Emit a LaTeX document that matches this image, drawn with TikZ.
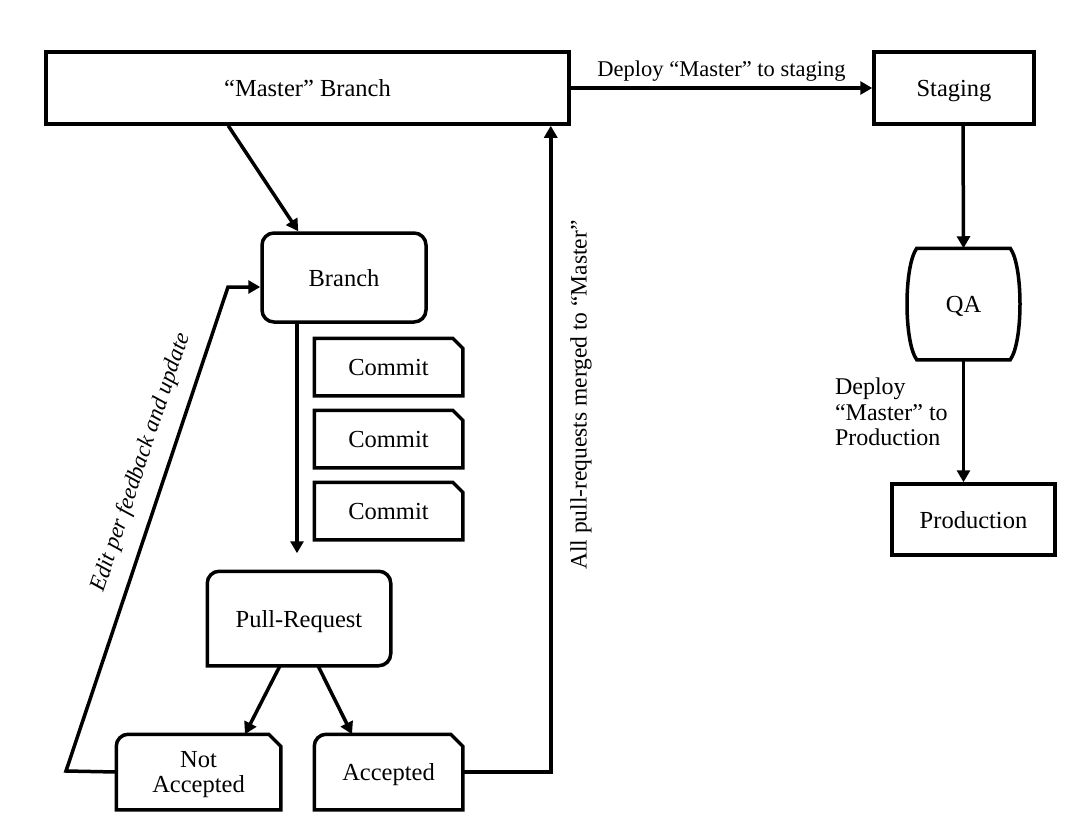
\documentclass[tikz,border=0pt]{standalone}
\usepackage{fontspec}
\setmainfont{Liberation Serif}
\usetikzlibrary{arrows.meta}
\begin{document}
\begin{tikzpicture}[x=1pt, y=-1pt, line width=3.5pt, font=\fontsize{24.5}{25.5}\selectfont,
  box/.style={draw, minimum width=#1, text depth=0pt},
  plain/.style={minimum width=#1, text depth=0pt},
  arr/.style={-{Triangle[length=12pt, width=13pt]}}]
\useasboundingbox (0,0) rectangle (1088,825);
% top row
\node[box=523, minimum height=72] (master) at (307.5,88){``Master'' Branch};
\node[box=160, minimum height=72] (staging) at (954,88){Staging};
\draw[arr](master.east) -- node[above=2, font=\fontsize{22.5}{25}\selectfont]{Deploy ``Master'' to staging} (staging.west);
% branch and commits
\node[box=164, minimum height=89, rounded corners=12] (branch) at (344,277.5){Branch};
\node[plain=145, minimum height=54] (commit1) at (388.5,367){Commit};
\node[plain=145, minimum height=54] (commit2) at (388.5,439){Commit};
\node[plain=145, minimum height=54] (commit3) at (388.5,511){Commit};
\draw[](commit1.south west) -- (commit1.north west) -- ([xshift=-10]commit1.north east) -- ([yshift=-10]commit1.north east) -- (commit1.south east) -- cycle;
\draw[](commit2.south west) -- (commit2.north west) -- ([xshift=-10]commit2.north east) -- ([yshift=-10]commit2.north east) -- (commit2.south east) -- cycle;
\draw[](commit3.south west) -- (commit3.north west) -- ([xshift=-10]commit3.north east) -- ([yshift=-10]commit3.north east) -- (commit3.south east) -- cycle;
% pull request
\node[plain=180, minimum height=91] (pullreq) at (299,618.5){Pull-Request};
\draw[](pullreq.west) [rounded corners=12] -- (pullreq.north west) -- (pullreq.north east) -- (pullreq.south east) -- (pullreq.south) [sharp corners] -- (pullreq.south west) -- cycle;
\draw[arr]([xshift=-47]branch.south) -- ([xshift=-2, yshift=18]pullreq.north);
\draw[arr]([xshift=184]master.south west) -- ([xshift=38]branch.north west);
% review outcome
\node[plain=161, minimum height=72, align=center] (notacc) at (198.5,772){Not\\Accepted};
\node[plain=145, minimum height=72] (acc) at (388.5,772){Accepted};
\draw[](notacc.south west) -- (notacc.west) [rounded corners=12] -- (notacc.north west) -- (notacc.north) [sharp corners] -- ([xshift=-12]notacc.north east) -- ([yshift=-12]notacc.north east) -- (notacc.south east) -- cycle;
\draw[](acc.south west) -- (acc.west) [rounded corners=12] -- (acc.north west) -- (acc.north) [sharp corners] -- ([xshift=-12]acc.north east) -- ([yshift=-12]acc.north east) -- (acc.south east) -- cycle;
\draw[arr]([xshift=-19]pullreq.south) -- ([xshift=46.5]notacc.north);
\draw[arr]([xshift=19]pullreq.south) -- ([xshift=-36.5]acc.north);
% loops back
\coordinate (fb1) at (66,771);
\coordinate (fb2) at (228,287);
\draw[arr](notacc.west) -- (fb1) -- node[sloped, above=11, pos=0.62, font=\fontsize{23}{25}\selectfont\itshape]{Edit per feedback and update} (fb2) -- ([yshift=-9.5]branch.west);
\draw[arr](acc.east) -| ([xshift=-20]master.south east);
\node[rotate=90, font=\fontsize{23.5}{25}\selectfont] (mergelbl) at (581,395){All pull-requests merged to ``Master''};
% release
\node[plain=90, minimum height=108] (qa) at (963.5,304){QA};
\draw[](qa.north west) -- (qa.north east) .. controls +(13,18) and +(13,-18) .. (qa.south east) -- (qa.south west) .. controls +(-13,-18) and +(-13,18) .. (qa.north west) -- cycle;
\node[box=163, minimum height=71] (prod) at (973.5,519.5){Production};
\draw[arr]([xshift=9]staging.south) -- (qa.north);
\draw[arr](qa.south) -- ([xshift=-10]prod.north);
\node[align=left, anchor=west, font=\fontsize{24}{25.5}\selectfont] (deploylbl) at (830,412){Deploy\\``Master'' to\\Production};
\end{tikzpicture}
\end{document}
